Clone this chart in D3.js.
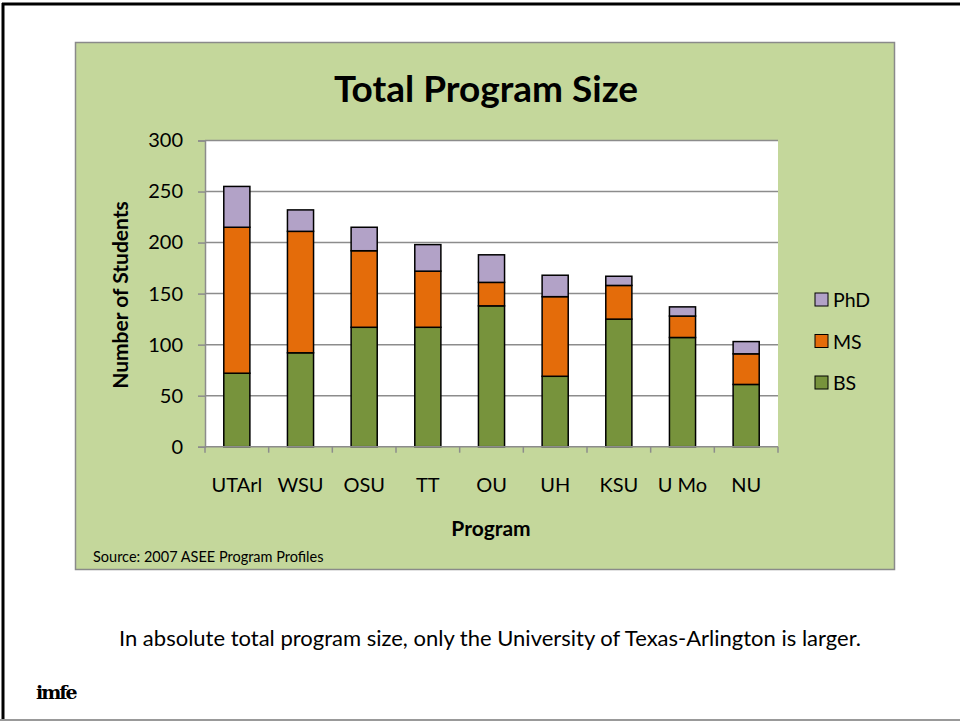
<!DOCTYPE html>
<html><head><meta charset="utf-8">
<script src="https://cdn.jsdelivr.net/npm/d3@7"></script>
<style>html,body{margin:0;padding:0;background:#fff;} svg{display:block;font-family:Lato,"Open Sans",sans-serif;}</style>
</head><body>
<script>
const programs = ["UTArl","WSU","OSU","TT","OU","UH","KSU","U Mo","NU"];
const bsValues = [72,92,117,117,138,69,125,107,61];
const msValues = [143,119,75,55,23,78,33,21,30];
const phdValues = [40,21,23,26,27,21,9,9,12];
const seriesNames = ["BS","MS","PhD"];
const seriesColors = ["#77933C","#E46C0A","#B2A2C7"];
const yTicks = [0,50,100,150,200,250,300];

const W=960,H=721;
const svg=d3.select("body").append("svg").attr("width",W).attr("height",H);
svg.append("rect").attr("width",W).attr("height",H).attr("fill","#fff");
// slide frame
svg.append("line").attr("x1",2).attr("x2",W).attr("y1",4).attr("y2",4).attr("stroke","#000").attr("stroke-width",3);
svg.append("line").attr("x1",3).attr("x2",3).attr("y1",3).attr("y2",H).attr("stroke","#000").attr("stroke-width",3);
svg.append("line").attr("x1",0).attr("x2",W).attr("y1",720).attr("y2",720).attr("stroke","#999").attr("stroke-width",2);

// chart panel
svg.append("rect").attr("x",75.5).attr("y",42.5).attr("width",819).attr("height",527)
  .attr("fill","#C4D79B").attr("stroke","#8a8a8a").attr("stroke-width",1.5);

const m={l:205,r:778,t:140.5,b:446.7};
const x=d3.scaleBand().domain(programs).range([m.l,m.r]).paddingInner(0.59).paddingOuter(0.295);
const xb=d3.scaleBand().domain(programs).range([m.l,m.r]);
const y=d3.scaleLinear().domain([0,300]).range([m.b,m.t]);

svg.append("rect").attr("x",m.l).attr("y",m.t).attr("width",m.r-m.l).attr("height",m.b-m.t).attr("fill","#fff");

// gridlines
svg.append("g").selectAll("line").data(yTicks.filter(d=>d>0)).join("line")
  .attr("x1",m.l).attr("x2",m.r).attr("y1",d=>y(d)).attr("y2",d=>y(d))
  .attr("stroke","#8c8c8c").attr("stroke-width",1.5);

// y axis
const yAxis=svg.append("g").attr("transform",`translate(${m.l},0)`)
  .call(d3.axisLeft(y).tickValues(yTicks).tickSize(7).tickPadding(15));
yAxis.select(".domain").attr("stroke","#8c8c8c").attr("stroke-width",1.5);
yAxis.selectAll(".tick line").attr("stroke","#8c8c8c").attr("stroke-width",1.5);
yAxis.selectAll("text").attr("font-size",20).attr("fill","#000").attr("font-family","Lato,sans-serif");

// stacked bars
const rows=programs.map((p,i)=>({program:p,BS:bsValues[i],MS:msValues[i],PhD:phdValues[i]}));
const stack=d3.stack().keys(seriesNames)(rows);
const color=d3.scaleOrdinal().domain(seriesNames).range(seriesColors);
svg.append("g").selectAll("g").data(stack).join("g").attr("fill",d=>color(d.key))
  .selectAll("rect").data(d=>d).join("rect")
  .attr("x",d=>x(d.data.program)).attr("width",x.bandwidth())
  .attr("y",d=>y(d[1])).attr("height",d=>y(d[0])-y(d[1]))
  .attr("stroke","#000").attr("stroke-width",1.5);

// x axis
const xAxisG=svg.append("g").attr("transform",`translate(0,${m.b})`);
xAxisG.append("line").attr("x1",m.l).attr("x2",m.r).attr("stroke","#8c8c8c").attr("stroke-width",1.5);
const bounds=programs.map(p=>xb(p)).concat([m.r]);
xAxisG.selectAll("line.tk").data(bounds).join("line").attr("class","tk")
  .attr("x1",d=>d).attr("x2",d=>d).attr("y1",0).attr("y2",6).attr("stroke","#8c8c8c").attr("stroke-width",1.5);
xAxisG.selectAll("text").data(programs).join("text")
  .attr("x",d=>xb(d)+xb.bandwidth()/2).attr("y",45).attr("text-anchor","middle")
  .attr("font-size",20).text(d=>d);

// titles
svg.append("text").attr("x",486).attr("y",102).attr("text-anchor","middle")
  .attr("font-size",37).attr("font-weight","bold").text("Total Program Size");
svg.append("text").attr("transform","translate(128,295) rotate(-90)").attr("text-anchor","middle")
  .attr("font-size",21).attr("font-weight","bold").text("Number of Students");
svg.append("text").attr("x",491).attr("y",536).attr("text-anchor","middle")
  .attr("font-size",21).attr("font-weight","bold").text("Program");
svg.append("text").attr("x",93).attr("y",562).attr("font-size",14.5).text("Source: 2007 ASEE Program Profiles");

// legend
const legendOrder=["PhD","MS","BS"];
const lg=svg.append("g").selectAll("g").data(legendOrder).join("g")
  .attr("transform",(d,i)=>`translate(815,${293+i*41.5})`);
lg.append("rect").attr("width",13).attr("height",13).attr("fill",d=>color(d)).attr("stroke","#000").attr("stroke-width",1);
lg.append("text").attr("x",18).attr("y",14).attr("font-size",19.5).text(d=>d);

// caption
svg.append("text").attr("x",490).attr("y",646).attr("text-anchor","middle")
  .attr("font-size",22).attr("font-family","Lato,sans-serif")
  .text("In absolute total program size, only the University of Texas-Arlington is larger.");

// logo
svg.append("text").attr("x",36).attr("y",699).attr("font-size",19).attr("font-family","DejaVu Serif,serif")
  .attr("font-weight","bold").attr("letter-spacing",-2).text("imfe");
</script>
</body></html>
